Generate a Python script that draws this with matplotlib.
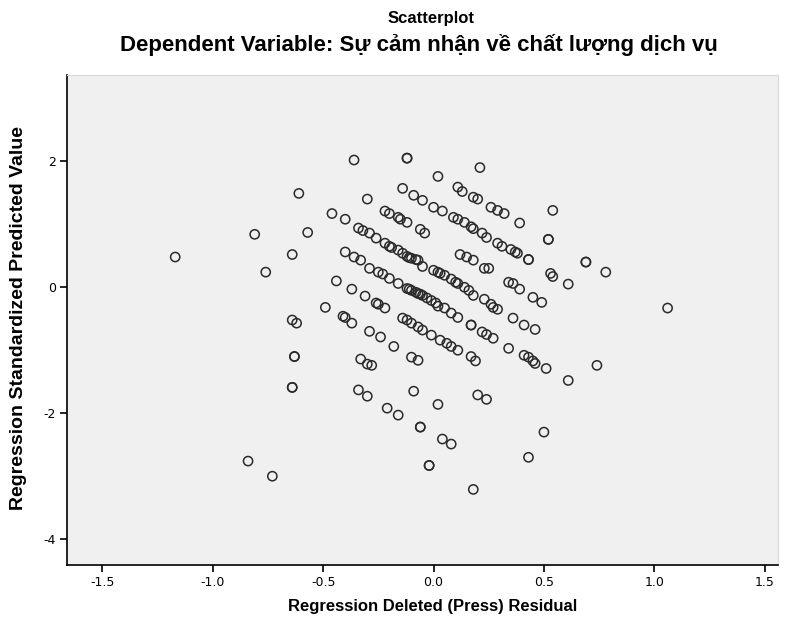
import matplotlib
matplotlib.use("Agg")
import matplotlib.pyplot as plt
import numpy as np

# Regression Deleted (Press) Residual (x) and Regression Standardized Predicted Value (y)
resid = [
    -0.36, -0.12, -0.12, 0.21, 0.02, -0.61, -0.30, -0.14, -0.09, -0.05,
    0.11, 0.13, 0.18, 0.20, 0.26, 0.29, 0.32, 0.54, -0.46, -0.40,
    -0.22, -0.20, 0.00, 0.04, -0.16, -0.15, -0.12, 0.09, 0.11, 0.14,
    0.17, 0.18, 0.39, -0.57, -0.81, -0.34, -0.32, -0.29, -0.26, -0.06,
    -0.04, 0.22, 0.24, 0.52, 0.52, -0.22, -0.20, -0.19, -0.16, -0.14,
    -0.12, -0.11, -0.10, -0.08, -0.07, -0.05, 0.29, 0.31, 0.12, 0.15,
    0.18, 0.35, 0.37, 0.38, 0.43, 0.43, -0.64, -0.40, -0.36, -0.33,
    -0.76, -0.29, -0.25, -0.23, -0.20, -0.16, 0.00, 0.02, 0.03, 0.05,
    0.08, 0.10, 0.11, 0.14, 0.16, 0.18, 0.23, 0.26, 0.27, 0.29,
    0.23, 0.25, 0.34, 0.36, 0.39, 0.53, 0.54, 0.69, 0.69, 0.78,
    0.61, -0.44, -0.37, -0.31, -0.26, -0.25, -0.22, -0.12, -0.11, -0.10,
    -0.08, -0.07, -0.06, -0.05, -0.03, -0.01, 0.01, 0.02, 0.05, 0.08,
    0.11, 0.45, 0.49, -1.17, -0.49, -0.64, -0.62, -0.41, -0.40, -0.37,
    -0.14, -0.12, -0.10, -0.07, -0.05, -0.01, 0.17, 0.17, 0.22, 0.24,
    0.27, 0.36, 0.41, 0.46, 1.06, -0.29, -0.24, 0.03, 0.06, 0.08,
    0.11, -0.18, 0.34, -0.63, -0.63, -0.33, -0.30, -0.28, -0.10, -0.07,
    0.17, 0.19, 0.41, 0.43, 0.45, 0.46, 0.51, 0.74, 0.61, -0.64,
    -0.64, -0.34, -0.30, -0.21, -0.16, -0.09, 0.02, 0.20, 0.24, -0.06,
    -0.06, 0.04, 0.08, -0.02, -0.02, 0.18, 0.50, 0.43, -0.84, -0.73,
]
pred = [
    2.02, 2.05, 2.05, 1.90, 1.76, 1.49, 1.40, 1.57, 1.46, 1.38,
    1.59, 1.52, 1.43, 1.40, 1.27, 1.22, 1.17, 1.22, 1.17, 1.08,
    1.21, 1.17, 1.27, 1.21, 1.11, 1.08, 1.03, 1.11, 1.08, 1.03,
    0.96, 0.93, 1.02, 0.87, 0.84, 0.94, 0.90, 0.86, 0.78, 0.92,
    0.86, 0.86, 0.79, 0.76, 0.76, 0.70, 0.65, 0.63, 0.59, 0.54,
    0.49, 0.47, 0.46, 0.44, 0.43, 0.33, 0.70, 0.65, 0.52, 0.48,
    0.43, 0.60, 0.56, 0.54, 0.44, 0.44, 0.52, 0.56, 0.48, 0.43,
    0.24, 0.30, 0.24, 0.21, 0.14, 0.06, 0.27, 0.24, 0.22, 0.19,
    0.13, 0.08, 0.06, 0.00, -0.05, -0.13, -0.19, -0.27, -0.32, -0.35,
    0.30, 0.30, 0.08, 0.06, -0.03, 0.22, 0.17, 0.40, 0.40, 0.24,
    0.05, 0.10, -0.03, -0.14, -0.25, -0.27, -0.33, -0.02, -0.03, -0.05,
    -0.08, -0.10, -0.11, -0.13, -0.17, -0.21, -0.25, -0.30, -0.33, -0.41,
    -0.48, -0.16, -0.24, 0.48, -0.32, -0.52, -0.57, -0.46, -0.48, -0.57,
    -0.49, -0.52, -0.57, -0.63, -0.68, -0.76, -0.60, -0.60, -0.71, -0.75,
    -0.81, -0.49, -0.60, -0.67, -0.33, -0.70, -0.79, -0.84, -0.89, -0.94,
    -1.00, -0.94, -0.97, -1.10, -1.10, -1.14, -1.22, -1.24, -1.11, -1.16,
    -1.10, -1.17, -1.08, -1.11, -1.17, -1.21, -1.29, -1.24, -1.48, -1.59,
    -1.59, -1.63, -1.73, -1.92, -2.03, -1.65, -1.86, -1.71, -1.78, -2.22,
    -2.22, -2.41, -2.49, -2.83, -2.83, -3.21, -2.30, -2.70, -2.76, -3.00,
]

x_ticks = [-1.5, -1.0, -0.5, 0.0, 0.5, 1.0, 1.5]
x_tick_labels = ["-1.5", "-1.0", "-0.5", "0.0", "0.5", "1.0", "1.5"]
y_ticks = [-4, -2, 0, 2]
y_tick_labels = ["-4", "-2", "0", "2"]

title = "Scatterplot"
subtitle = "Dependent Variable: Sự cảm nhận về chất lượng dịch vụ"
xlabel = "Regression Deleted (Press) Residual"
ylabel = "Regression Standardized Predicted Value"

plt.rcParams["font.family"] = ["Liberation Sans", "DejaVu Sans"]

fig = plt.figure(figsize=(7.92, 6.26), dpi=100)
fig.patch.set_facecolor("white")
ax = fig.add_axes([67 / 792, 1 - 565 / 626, (778 - 67) / 792, (565 - 75) / 626])
ax.set_facecolor("#f0f0f0")

ax.scatter(resid, pred, s=44, facecolors="none", edgecolors="#2a2a2a",
           linewidths=1.1, zorder=3)

ax.set_xlim(-1.66, 1.56)
ax.set_ylim(-4.41, 3.37)

tick_font = ["Liberation Sans Narrow", "DejaVu Sans"]
ax.set_xticks(x_ticks)
ax.set_xticklabels(x_tick_labels, fontsize=9, family=tick_font)
ax.set_yticks(y_ticks)
ax.set_yticklabels(y_tick_labels, fontsize=9, family=tick_font)
ax.tick_params(direction="out", length=5, width=1.2, color="black", pad=3)

for side in ["left", "bottom"]:
    ax.spines[side].set_color("black")
    ax.spines[side].set_linewidth(1.2)
for side in ["top", "right"]:
    ax.spines[side].set_color("#d8d8d8")
    ax.spines[side].set_linewidth(0.8)

ax.set_xlabel(xlabel, fontsize=12, fontweight="bold")
ax.xaxis.set_label_coords((433 - 67) / (778 - 67), -(607 - 565) / (565 - 75),
                          transform=ax.transAxes)
ax.xaxis.label.set_va("center")
ax.set_ylabel(ylabel, fontsize=14, fontweight="bold")
ax.yaxis.set_label_coords(-(67 - 19) / (778 - 67), (565 - 318) / (565 - 75),
                          transform=ax.transAxes)
ax.yaxis.label.set_va("center")

fig.text(431.5 / 792, 1 - 18 / 626, title, ha="center", va="center",
         fontsize=12, fontweight="bold")
fig.text(419 / 792, 1 - 45 / 626, subtitle, ha="center", va="center",
         fontsize=16, fontweight="bold")

fig.savefig("out.png", dpi=100)
